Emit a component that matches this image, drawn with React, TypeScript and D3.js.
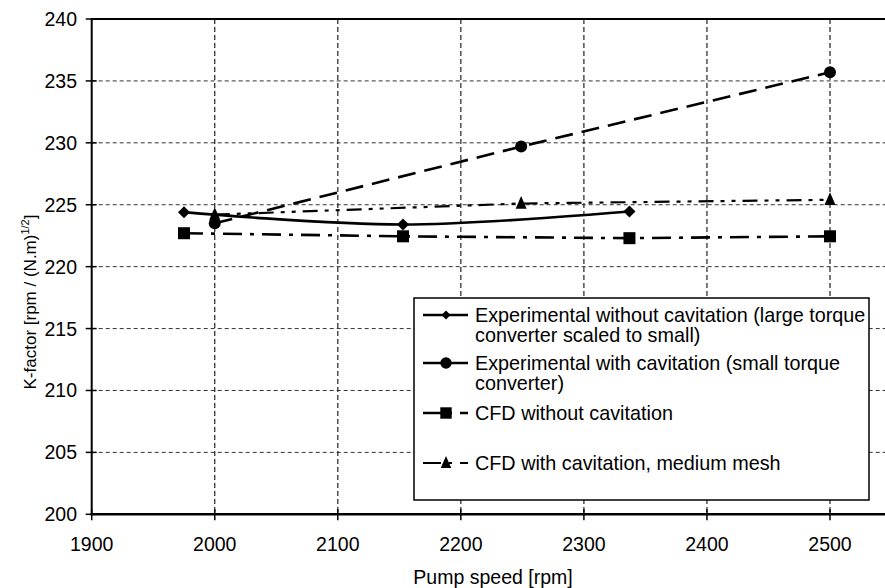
import React from 'react';
import * as d3 from 'd3';

const expNoCavX = [1975, 2153, 2337];
const expNoCavY = [224.4, 223.4, 224.45];
const expCavX = [2000, 2249, 2500];
const expCavY = [223.5, 229.7, 235.7];
const cfdNoCavX = [1975, 2153, 2337, 2500];
const cfdNoCavY = [222.7, 222.45, 222.3, 222.45];
const cfdCavX = [2000, 2249, 2500];
const cfdCavY = [224.2, 225.1, 225.4];

const xTicks = [1900, 2000, 2100, 2200, 2300, 2400, 2500];
const yTicks = [200, 205, 210, 215, 220, 225, 230, 235, 240];

const legendLines = [
  ['Experimental without cavitation (large torque', 'converter scaled to small)'],
  ['Experimental with cavitation (small torque', 'converter)'],
  ['CFD without cavitation'],
  ['CFD with cavitation, medium mesh'],
];

const W = 885;
const H = 588;
const FONT = 'Liberation Sans, Arial, Helvetica, sans-serif';

type Pt = [number, number];

function Marker({ kind, x, y, s = 1 }: { kind: string; x: number; y: number; s?: number }) {
  if (kind === 'diamond') {
    const r = 6 * s;
    return <path d={`M${x},${y - r}L${x + r},${y}L${x},${y + r}L${x - r},${y}Z`} fill="#000" />;
  }
  if (kind === 'circle') return <circle cx={x} cy={y} r={6 * s} fill="#000" />;
  if (kind === 'square') {
    const r = 6 * s;
    return <rect x={x - r} y={y - r} width={2 * r} height={2 * r} fill="#000" />;
  }
  const r = 6.5 * s;
  return <path d={`M${x},${y - r * 1.15}L${x + r * 0.85},${y + r * 0.8}L${x - r * 0.85},${y + r * 0.8}Z`} fill="#000" />;
}

export default function App() {
  const x = d3.scaleLinear().domain([1900, 2550]).range([91.7, 91.7 + 650 * 1.2305]);
  const y = d3.scaleLinear().domain([200, 240]).range([514.3, 19]);
  const x0 = x(1900);
  const y0 = y(200);
  const yTop = y(240);

  const toPts = (xs: number[], ys: number[]): Pt[] => xs.map((v, i) => [x(v), y(ys[i])]);

  const smooth = d3.line<Pt>().curve(d3.curveCatmullRom.alpha(0));
  const straight = d3.line<Pt>();

  const series = [
    { pts: toPts(expNoCavX, expNoCavY), kind: 'diamond', dash: undefined as string | undefined, w: 2.6, gen: smooth },
    { pts: toPts(expCavX, expCavY), kind: 'circle', dash: '18,9', w: 2.6, gen: straight },
    { pts: toPts(cfdNoCavX, cfdNoCavY), kind: 'square', dash: '19,8,4,8', w: 2.6, gen: straight },
    { pts: toPts(cfdCavX, cfdCavY), kind: 'triangle', dash: '15,7,4,7,4,7', w: 2.2, gen: straight },
  ];

  const lg = { x: 414, y: 298, w: 455, h: 202 };
  const rowY = [315, 363, 413, 463];
  const rowGap = 20;

  return (
    <svg width={W} height={H} style={{ position: 'absolute', left: 0, top: 0, background: '#fff' }} fontFamily={FONT}>
      <rect x={0} y={0} width={W} height={H} fill="#fff" />
      {yTicks.filter((t) => t > 200 && t < 240).map((t) => (
        <line key={'gy' + t} x1={x0} x2={W} y1={y(t)} y2={y(t)} stroke="#333" strokeWidth={1} strokeDasharray="4,3" />
      ))}
      {xTicks.filter((t) => t > 1900).map((t) => (
        <line key={'gx' + t} x1={x(t)} x2={x(t)} y1={yTop} y2={y0} stroke="#222" strokeWidth={1.2} strokeDasharray="5,3" />
      ))}
      <line x1={x0} x2={W} y1={yTop} y2={yTop} stroke="#000" strokeWidth={2} />
      <line x1={x0} x2={x0} y1={yTop - 1} y2={y0 + 1} stroke="#000" strokeWidth={2} />
      <line x1={x0 - 1} x2={W} y1={y0} y2={y0} stroke="#000" strokeWidth={2.4} />
      {yTicks.map((t) => (
        <g key={'ty' + t}>
          <line x1={x0 - 6} x2={x0 + 5} y1={y(t)} y2={y(t)} stroke="#000" strokeWidth={1.5} />
          <text x={77} y={y(t) + 7} textAnchor="end" fontSize={19.5} fill="#000">{t}</text>
        </g>
      ))}
      {xTicks.map((t) => (
        <g key={'tx' + t}>
          <line x1={x(t)} x2={x(t)} y1={y0 - 5} y2={y0 + 6} stroke="#000" strokeWidth={1.5} />
          <text x={x(t)} y={551} textAnchor="middle" fontSize={19.5} fill="#000">{t}</text>
        </g>
      ))}
      <text x={493} y={584} textAnchor="middle" fontSize={19.5} fill="#000">Pump speed [rpm]</text>
      <text transform={`translate(36,302) rotate(-90)`} textAnchor="middle" fontSize={17} fill="#000">
        K-factor [rpm / (N.m)<tspan dy={-7} fontSize={11}>1/2</tspan><tspan dy={7}>]</tspan>
      </text>
      {series.map((s, i) => (
        <g key={'s' + i}>
          <path d={s.gen(s.pts) || ''} fill="none" stroke="#000" strokeWidth={s.w} strokeDasharray={s.dash} />
          {s.pts.map((p, j) => (
            <Marker key={j} kind={s.kind} x={p[0]} y={p[1]} />
          ))}
        </g>
      ))}
      <rect x={lg.x} y={lg.y} width={lg.w} height={lg.h} fill="#fff" stroke="#000" strokeWidth={1.5} />
      {series.map((s, i) => (
        <g key={'l' + i}>
          <line x1={423} x2={468} y1={rowY[i]} y2={rowY[i]} stroke="#000" strokeWidth={s.w}
            strokeDasharray={s.dash ? (i === 1 ? '45' : '18,8,3,8') : undefined} />
          <Marker kind={s.kind} x={446} y={rowY[i]} s={i === 0 ? 0.75 : 0.95} />
          {legendLines[i].map((ln, k) => (
            <text key={k} x={475} y={rowY[i] + 7 + k * rowGap} fontSize={19.8} fill="#000">{ln}</text>
          ))}
        </g>
      ))}
    </svg>
  );
}
